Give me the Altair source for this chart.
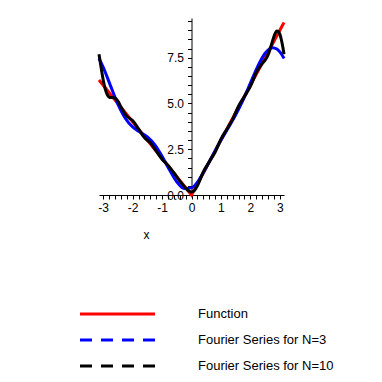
import altair as alt
import pandas as pd

# ---- data ----
func_name = "Function"
n3_name = "Fourier Series for N=3"
n10_name = "Fourier Series for N=10"

func_x = [-3.1416, 0.0, 3.1416]
func_y = [6.283, 0.0, 9.425]

n3_x = [-3.1416, -3.0, -2.9, -2.75, -2.5, -2.25, -2.0, -1.75, -1.5, -1.25, -1.0,
        -0.75, -0.5, -0.25, 0.0, 0.25, 0.5, 0.75, 1.0, 1.25, 1.5, 1.75, 2.0,
        2.25, 2.5, 2.75, 2.9, 3.0, 3.1416]
n3_y = [7.464, 6.982, 6.590, 5.964, 4.963, 4.194, 3.717, 3.440, 3.175, 2.755, 2.123,
        1.378, 0.717, 0.349, 0.390, 0.819, 1.499, 2.262, 2.991, 3.673, 4.377, 5.186, 6.107,
        7.028, 7.745, 8.048, 7.976, 7.818, 7.464]

n10_x = [-3.1416, -3.1, -3.05, -3.0, -2.95, -2.9, -2.85, -2.8, -2.75, -2.7, -2.6, -2.5,
         -2.4, -2.2, -2.0, -1.8, -1.6, -1.4, -1.2, -1.0, -0.8, -0.6, -0.4, -0.2, -0.1,
         0.0, 0.1, 0.2, 0.4, 0.6, 0.8, 1.0, 1.2, 1.4, 1.6, 1.8, 2.0, 2.2, 2.4, 2.5,
         2.6, 2.7, 2.75, 2.8, 2.85, 2.9, 2.95, 3.0, 3.05, 3.1, 3.1416]
n10_y = [7.695, 7.272, 6.761, 6.299, 5.916, 5.635, 5.451, 5.353, 5.322, 5.321, 5.299, 5.136,
         4.823, 4.308, 4.070, 3.610, 3.138, 2.851, 2.405, 1.957, 1.624, 1.216, 0.772, 0.386, 0.228,
         0.159, 0.246, 0.504, 1.258, 1.810, 2.338, 3.055, 3.595, 4.149, 4.862, 5.390, 5.930, 6.692, 7.177, 7.364,
         7.653, 8.131, 8.404, 8.663, 8.857, 8.961, 8.942, 8.789, 8.497, 8.098, 7.695]

x_ticks = [-3.0, -2.8, -2.6, -2.4, -2.2, -2.0, -1.8, -1.6, -1.4, -1.2, -1.0, -0.8, -0.6,
           -0.4, -0.2, 0.0, 0.2, 0.4, 0.6, 0.8, 1.0, 1.2, 1.4, 1.6, 1.8, 2.0, 2.2, 2.4,
           2.6, 2.8, 3.0]
y_ticks = [0.0, 0.5, 1.0, 1.5, 2.0, 2.5, 3.0, 3.5, 4.0, 4.5, 5.0, 5.5, 6.0, 6.5, 7.0,
           7.5, 8.0, 8.5, 9.0, 9.5]

FONT = "Liberation Sans"

df_func = pd.DataFrame({"x": func_x, "y": func_y, "series": func_name})
df_fs = pd.concat([
    pd.DataFrame({"x": n3_x, "y": n3_y, "series": n3_name}),
    pd.DataFrame({"x": n10_x, "y": n10_y, "series": n10_name}),
], ignore_index=True)

xscale = alt.Scale(domain=[-3.1416, 3.1416], nice=False, zero=False)
yscale = alt.Scale(domain=[0, 9.67], nice=False, zero=False)

x_axis = alt.Axis(
    values=x_ticks,
    labelExpr="abs(datum.value - round(datum.value)) < 0.001 ? '' + round(datum.value) : ''",
    tickSize=4, labelPadding=3, grid=False,
    domainColor="black", tickColor="black", labelColor="black",
    labelFont=FONT, labelFontSize=12, labelFlush=False, labelOverlap=False,
    title="x", titleX=47, titleY=39, titleAlign="center", titleBaseline="middle",
    titleFont=FONT, titleFontSize=12, titleFontWeight="normal", titleColor="black",
)
y_axis = alt.Axis(
    values=y_ticks,
    labelExpr="datum.value % 2.5 === 0 ? format(datum.value, '.1f') : ''",
    tickSize=4, labelPadding=4, grid=False, offset=-92.5,
    domainColor="black", tickColor="black", labelColor="black",
    labelFont=FONT, labelFontSize=12, labelOverlap=False, labelFlush=False,
)

common_legend = dict(
    title=None, orient="none", legendX=-20.5, symbolType="stroke",
    symbolSize=5625, symbolStrokeWidth=3, clipHeight=14, rowPadding=12,
    labelOffset=41.5, labelFont=FONT, labelFontSize=13, labelColor="black",
    labelLimit=300, padding=0,
)

func_layer = alt.Chart(df_func).mark_line(strokeWidth=3).encode(
    x=alt.X("x:Q", scale=xscale, axis=x_axis),
    y=alt.Y("y:Q", scale=yscale, axis=y_axis, title=None),
    color=alt.Color("series:N",
                    scale=alt.Scale(domain=[func_name], range=["#ff0000"]),
                    legend=alt.Legend(legendY=289, **common_legend)),
)

fs_layer = alt.Chart(df_fs).mark_line(strokeWidth=3, interpolate="monotone").encode(
    x=alt.X("x:Q", scale=xscale, axis=x_axis),
    y=alt.Y("y:Q", scale=yscale, axis=y_axis, title=None),
    color=alt.Color("series:N",
                    scale=alt.Scale(domain=[n3_name, n10_name], range=["#0000ff", "#000000"]),
                    sort=[n3_name, n10_name],
                    legend=alt.Legend(legendY=315, symbolDash=[12, 9], **common_legend)),
    detail="series:N",
)

chart = alt.layer(func_layer, fs_layer).resolve_scale(color="independent").properties(
    width=185, height=177,
    autosize=alt.AutoSizeParams(type="none"),
    padding={"left": 91, "top": 10, "right": 90, "bottom": 179},
).configure_view(strokeWidth=0)

chart.save("out.html", embed_options={"renderer": "svg", "actions": False})
